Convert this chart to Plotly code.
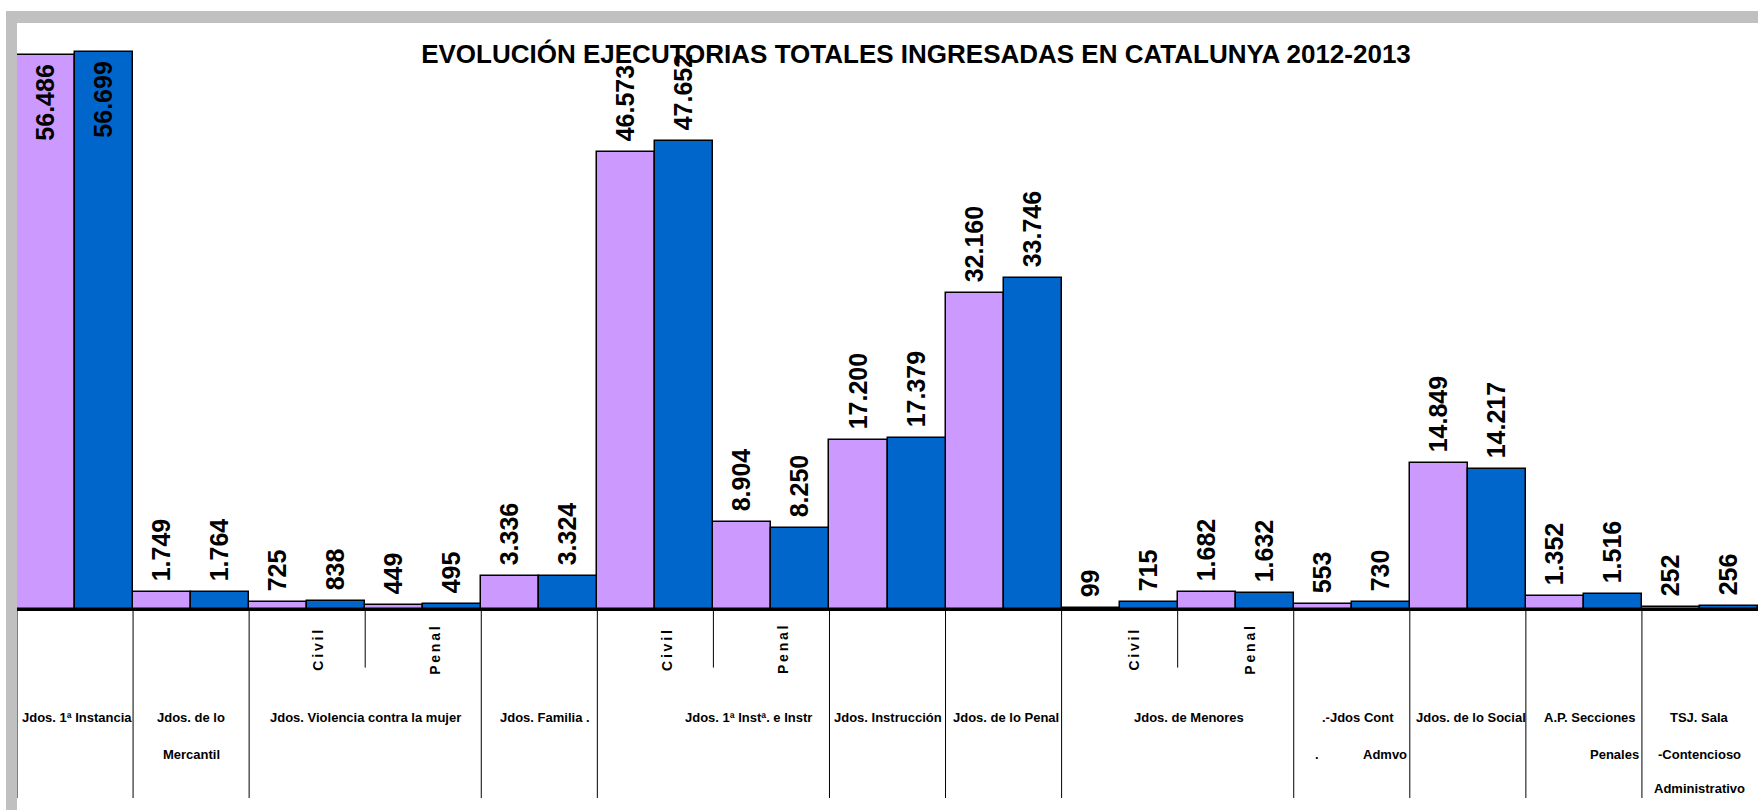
import plotly.graph_objects as go

# categorias (una por pareja de barras)
categorias = [
    "Jdos. 1ª Instancia", "Jdos. de lo Mercantil", "Violencia Civil", "Violencia Penal",
    "Jdos. Familia", "1ª Inst. e Instr Civil", "1ª Inst. e Instr Penal", "Jdos. Instrucción",
    "Jdos. de lo Penal", "Menores Civil", "Menores Penal", "Jdos Cont Admvo",
    "Jdos. de lo Social", "A.P. Secciones Penales", "TSJ. Sala Contencioso",
]
valores_2012 = [56486, 1749, 725, 449, 3336, 46573, 8904, 17200, 32160, 99, 1682, 553, 14849, 1352, 252]
valores_2013 = [56699, 1764, 838, 495, 3324, 47652, 8250, 17379, 33746, 715, 1632, 730, 14217, 1516, 256]

# etiquetas de la tabla inferior: (lineas, posicion en categorias)
grupos = [
    (["Jdos. 1ª Instancia"], 0.02),
    (["Jdos. de lo", "Mercantil"], 1.0),
    (["Jdos. Violencia contra la mujer"], 2.5),
    (["Jdos. Familia ."], 4.05),
    (["Jdos. 1ª Instª. e Instr"], 5.8),
    (["Jdos. Instrucción"], 7.0),
    (["Jdos. de lo Penal"], 8.02),
    (["Jdos. de Menores"], 9.6),
    ([".-Jdos Cont"], 11.05),
    (["Jdos. de lo Social"], 12.03),
    (["A.P. Secciones"], 13.05),
    (["TSJ. Sala", "-Contencioso", "Administrativo"], 14.0),
]
subgrupos = [("Civil", 2.09), ("Penal", 3.1), ("Civil", 5.1), ("Penal", 6.1), ("Civil", 9.12), ("Penal", 10.12)]
lineas_completas = [-0.5, 0.5, 1.5, 3.5, 4.5, 6.5, 7.5, 8.5, 10.5, 11.5, 12.5, 13.5]
lineas_parciales = [2.5, 5.5, 9.5]

ARIAL = "Liberation Sans, Arial"


def etiqueta(v):
    return "\u00a0" + f"{v:,}".replace(",", ".") + "\u00a0"


def posicion(vals):
    return ["inside" if v > 50000 else "outside" for v in vals]


fig = go.Figure()
for vals, color in [(valores_2012, "#CC99FF"), (valores_2013, "#0066CC")]:
    fig.add_trace(go.Bar(
        x=list(range(len(categorias))), y=vals,
        marker=dict(color=color, line=dict(color="black", width=1.5)),
        text=[etiqueta(v) for v in vals],
        textposition=posicion(vals),
        insidetextanchor="end",
        textangle=-90,
        constraintext="none",
        cliponaxis=False,
        textfont=dict(family=ARIAL, size=25, color="black", weight="bold"),
        hovertext=categorias,
    ))

shapes = []
# marco gris
shapes.append(dict(type="rect", xref="paper", yref="paper", x0=-11 / 1741, x1=1.0, y0=1.0, y1=1.0205,
                   fillcolor="#C0C0C0", line_width=0, layer="below"))
shapes.append(dict(type="rect", xref="paper", yref="paper", x0=-11 / 1741, x1=0, y0=-0.345, y1=1.0205,
                   fillcolor="#C0C0C0", line_width=0, layer="below"))
for x in lineas_completas:
    shapes.append(dict(type="line", xref="x", yref="paper", x0=x, x1=x, y0=0, y1=-0.3225,
                       line=dict(color="black", width=1)))
for x in lineas_parciales:
    shapes.append(dict(type="line", xref="x", yref="paper", x0=x, x1=x, y0=0, y1=-0.1,
                       line=dict(color="black", width=1)))

fuente_tabla = dict(family=ARIAL, size=13, color="black", weight="bold")
annotations = []
filas_y = [-0.185, -0.248, -0.306]
for lineas, x in grupos:
    for i, t in enumerate(lineas):
        annotations.append(dict(x=x, y=filas_y[i], xref="x", yref="paper", text=t, showarrow=False,
                                xanchor="center", yanchor="middle", font=fuente_tabla))
# lineas desplazadas de la tabla
annotations.append(dict(x=11.49, y=filas_y[1], xref="x", yref="paper", text="Admvo", showarrow=False,
                        xanchor="right", yanchor="middle", font=fuente_tabla))
annotations.append(dict(x=10.7, y=filas_y[1], xref="x", yref="paper", text=".", showarrow=False,
                        xanchor="center", yanchor="middle", font=fuente_tabla))
annotations.append(dict(x=13.26, y=filas_y[1], xref="x", yref="paper", text="Penales", showarrow=False,
                        xanchor="center", yanchor="middle", font=fuente_tabla))
for t, x in subgrupos:
    annotations.append(dict(x=x, y=-0.07, xref="x", yref="paper", text="\u2009".join(t), showarrow=False,
                            textangle=-90, xanchor="center", yanchor="middle",
                            font=dict(family=ARIAL, size=14, color="black", weight="bold")))

fig.update_layout(
    width=1758, height=810,
    margin=dict(l=17, r=0, t=23, b=201),
    paper_bgcolor="white", plot_bgcolor="white",
    barmode="group", bargap=0, bargroupgap=0,
    showlegend=False,
    title=dict(text="EVOLUCIÓN EJECUTORIAS TOTALES INGRESADAS EN CATALUNYA 2012-2013",
               x=916 / 1758, xanchor="center", y=1 - 54 / 810, yanchor="middle",
               font=dict(family=ARIAL, size=26, color="black", weight="bold")),
    xaxis=dict(range=[-0.5, 14.5], showticklabels=False, showgrid=False, zeroline=False,
               showline=True, linecolor="black", linewidth=2, ticks=""),
    yaxis=dict(range=[0, 59700], visible=False, showgrid=False),
    shapes=shapes,
    annotations=annotations,
)

fig.write_html("out.html", config={"displayModeBar": False},
               post_script="document.body.style.margin='0';")
